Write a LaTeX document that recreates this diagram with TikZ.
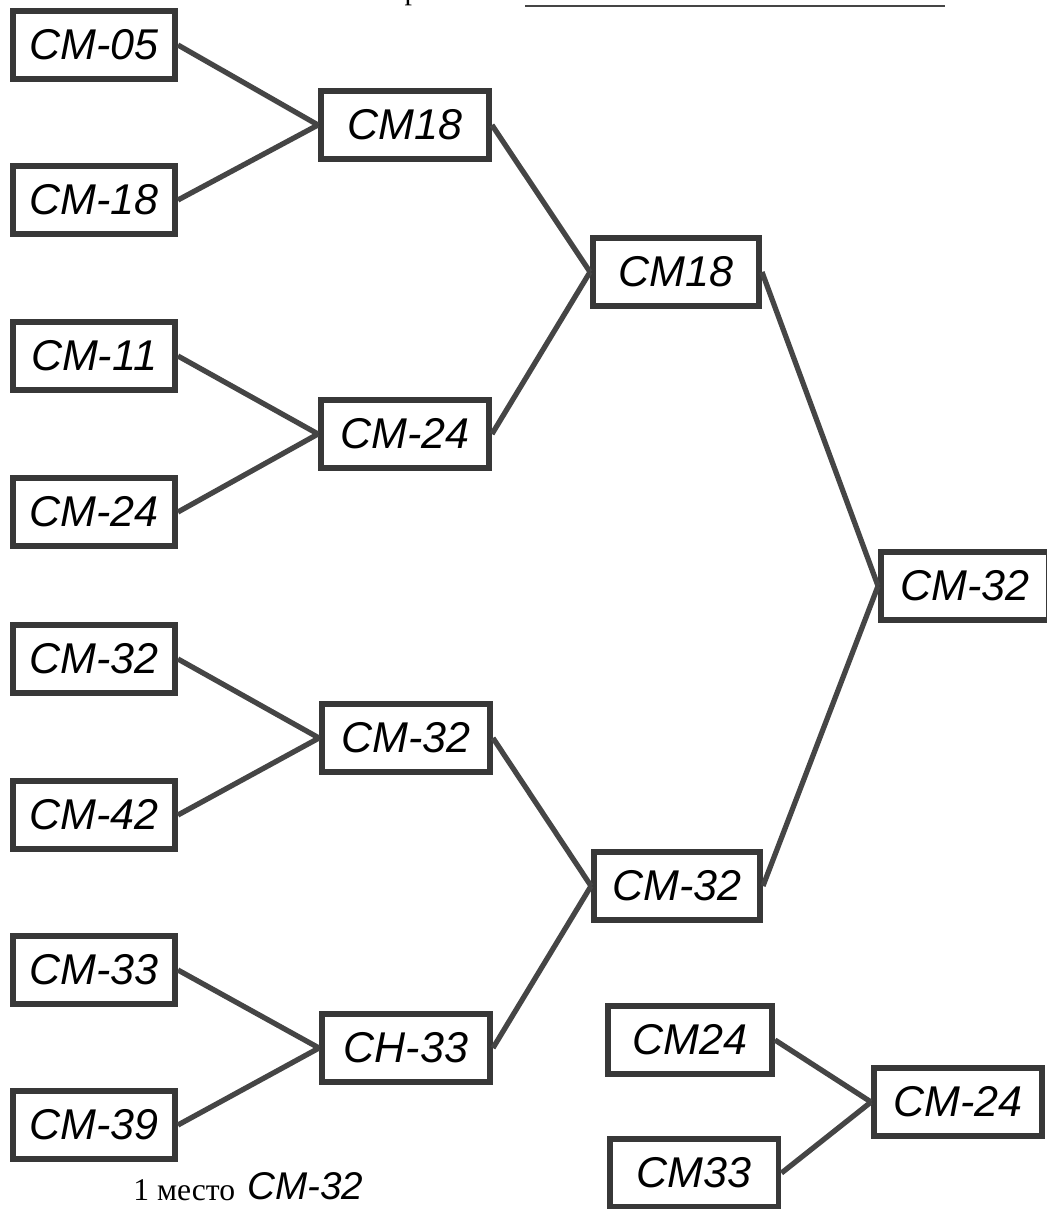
\documentclass[tikz,border=0pt]{standalone}
\usepackage{fontspec}
\setmainfont{Liberation Serif}
\newfontfamily\hand{Liberation Sans}
\definecolor{ramka}{HTML}{383838}
\definecolor{liniya}{HTML}{454545}
\usetikzlibrary{calc}

\begin{document}
\begin{tikzpicture}[x=0.02cm, y=-0.02cm,
    komanda/.style={draw=ramka, line width=3.4pt, minimum width=3.3cm,
      minimum height=1.36cm, inner sep=0pt,
      font=\hand\itshape\fontsize{24.5}{26}\selectfont},
    svyaz/.style={liniya, line width=3pt}]
  \useasboundingbox (0,0) rectangle (1046,1209);

  % shapka
  \node[anchor=base, font=\fontsize{17}{19}\selectfont] (bukva) at (412,0) {р};
  \coordinate (cherta1) at (525,6);
  \coordinate (cherta2) at (945,6);
  \draw[liniya, line width=1.6pt] (cherta1) -- (cherta2);

  % 1/8
  \node[komanda, minimum width=3.24cm] (l1) at (94,45) {CM-05};
  \node[komanda, minimum width=3.24cm] (l2) at (94,200) {CM-18};
  \node[komanda, minimum width=3.24cm] (l3) at (94,356) {CM-11};
  \node[komanda, minimum width=3.24cm] (l4) at (94,512) {CM-24};
  \node[komanda, minimum width=3.24cm] (l5) at (94,659) {CM-32};
  \node[komanda, minimum width=3.24cm] (l6) at (94,815) {CM-42};
  \node[komanda, minimum width=3.24cm] (l7) at (94,970) {CM-33};
  \node[komanda, minimum width=3.24cm] (l8) at (94,1125) {CM-39};

  % 1/4
  \node[komanda, minimum width=3.36cm] (q1) at (405,125) {CM18};
  \node[komanda, minimum width=3.36cm] (q2) at (405,434) {CM-24};
  \node[komanda, minimum width=3.36cm] (q3) at (406,738) {CM-32};
  \node[komanda, minimum width=3.36cm] (q4) at (406,1048) {CH-33};

  % 1/2
  \node[komanda, minimum width=3.32cm] (s1) at (676,272) {CM18};
  \node[komanda, minimum width=3.32cm] (s2) at (677,886) {CM-32};

  % final
  \node[komanda, minimum width=3.36cm] (f) at (965,586) {CM-32};

  % za 3 mesto
  \node[komanda, minimum width=3.28cm] (k1) at (690,1040) {CM24};
  \node[komanda, minimum width=3.38cm] (k2) at (694,1173) {CM33};
  \node[komanda, minimum width=3.36cm] (k3) at (958,1102) {CM-24};

  \draw[svyaz] (l1.east) -- (q1.west);
  \draw[svyaz] (l2.east) -- (q1.west);
  \draw[svyaz] (l3.east) -- (q2.west);
  \draw[svyaz] (l4.east) -- (q2.west);
  \draw[svyaz] (l5.east) -- (q3.west);
  \draw[svyaz] (l6.east) -- (q3.west);
  \draw[svyaz] (l7.east) -- (q4.west);
  \draw[svyaz] (l8.east) -- (q4.west);
  \draw[svyaz] (q1.east) -- (s1.west);
  \draw[svyaz] (q2.east) -- (s1.west);
  \draw[svyaz] (q3.east) -- (s2.west);
  \draw[svyaz] (q4.east) -- (s2.west);
  \draw[svyaz] (s1.east) -- (f.west);
  \draw[svyaz] (s2.east) -- (f.west);
  \draw[svyaz] (k1.east) -- (k3.west);
  \draw[svyaz] (k2.east) -- (k3.west);

  % itog
  \node[anchor=base west, inner sep=0pt, font=\fontsize{18}{20}\selectfont] (mesto) at (133,1200) {1 место};
  \node[anchor=base west, inner sep=0pt, font=\hand\itshape\fontsize{22}{24}\selectfont] (pobeditel) at (247,1199) {CM-32};
\end{tikzpicture}
\end{document}
